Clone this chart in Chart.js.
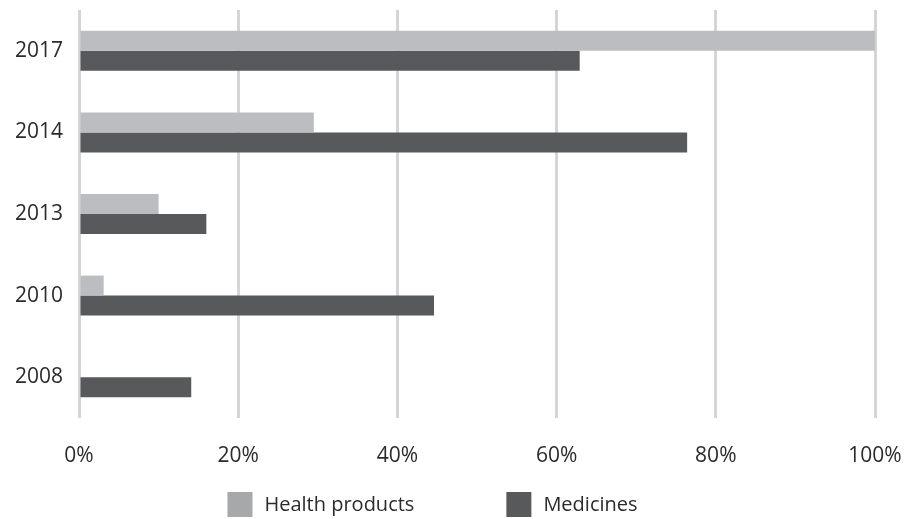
<!DOCTYPE html>
<html>
<head>
<meta charset="utf-8">
<script src="https://cdn.jsdelivr.net/npm/chart.js@4/dist/chart.umd.min.js"></script>
<style>
  html, body { margin: 0; padding: 0; background: #fff; }
  #wrap { width: 905px; height: 519px; }
</style>
</head>
<body>
<div id="wrap"><canvas id="chart" width="905" height="519"></canvas></div>
<script>
// ===== datos =====
const years = ["2017", "2014", "2013", "2010", "2008"];
const healthProducts = [100, 29.5, 10, 3.1, 0];
const medicines = [62.9, 76.4, 16, 44.6, 14.1];
const xTicks = [0, 20, 40, 60, 80, 100];

const textColor = "#2b2b2b";
const fontFamily = "'Open Sans', 'DejaVu Sans', sans-serif";

// legend drawn under the axis, with a wide gap between the two items
const spacedLegend = {
    id: "spacedLegend",
    afterDraw(chart, args, opts) {
        const ctx = chart.ctx;
        const items = chart.data.datasets.map(ds => ({ text: ds.label, color: ds.legendColor }));
        ctx.save();
        ctx.font = `${opts.fontSize}px ${fontFamily}`;
        const widths = items.map(it => opts.box + opts.textGap + ctx.measureText(it.text).width);
        const total = widths.reduce((a, b) => a + b, 0) + opts.gap * (items.length - 1);
        let x = chart.width / 2 + opts.offsetX - total / 2;
        const y = chart.height - opts.bottom - opts.box / 2;
        items.forEach((it, i) => {
            ctx.fillStyle = it.color;
            ctx.fillRect(x, y - opts.box / 2, opts.box, opts.box);
            ctx.fillStyle = textColor;
            ctx.textBaseline = "middle";
            ctx.textAlign = "left";
            ctx.fillText(it.text, x + opts.box + opts.textGap, y + 1);
            x += widths[i] + opts.gap;
        });
        ctx.restore();
    }
};

new Chart(document.getElementById("chart"), {
    type: "bar",
    data: {
        labels: years,
        datasets: [
            {
                label: "Health products",
                data: healthProducts,
                backgroundColor: "#bcbdc0",
                legendColor: "#a7a8aa",
                barPercentage: 1,
                categoryPercentage: 0.49
            },
            {
                label: "Medicines",
                data: medicines,
                backgroundColor: "#58595b",
                legendColor: "#58595b",
                barPercentage: 1,
                categoryPercentage: 0.49
            }
        ]
    },
    options: {
        indexAxis: "y",
        responsive: false,
        animation: false,
        layout: { padding: { top: 10, bottom: 54, left: 0, right: 0 } },
        plugins: {
            legend: { display: false },
            tooltip: { enabled: false },
            spacedLegend: { box: 25, textGap: 12, gap: 92, fontSize: 20, offsetX: -20, bottom: 2 }
        },
        scales: {
            x: {
                min: 0,
                max: 100,
                afterBuildTicks: (axis) => { axis.ticks = xTicks.map(v => ({ value: v })); },
                afterFit: (scale) => {
                    scale.height = 47;
                    scale.paddingLeft = 0;
                    scale.paddingRight = 30;
                },
                grid: { color: "#d5d5d7", lineWidth: 3, drawTicks: false },
                border: { display: false },
                ticks: {
                    padding: 25,
                    color: textColor,
                    font: { family: fontFamily, size: 21 },
                    callback: (v) => v + "%"
                }
            },
            y: {
                afterFit: (scale) => {
                    scale.width = 79;
                    scale.paddingTop = 0;
                    scale.paddingBottom = 0;
                },
                grid: { display: false, drawTicks: false },
                border: { display: false },
                ticks: {
                    padding: 16,
                    color: textColor,
                    font: { family: fontFamily, size: 21 }
                }
            }
        }
    },
    plugins: [spacedLegend]
});
</script>
</body>
</html>
